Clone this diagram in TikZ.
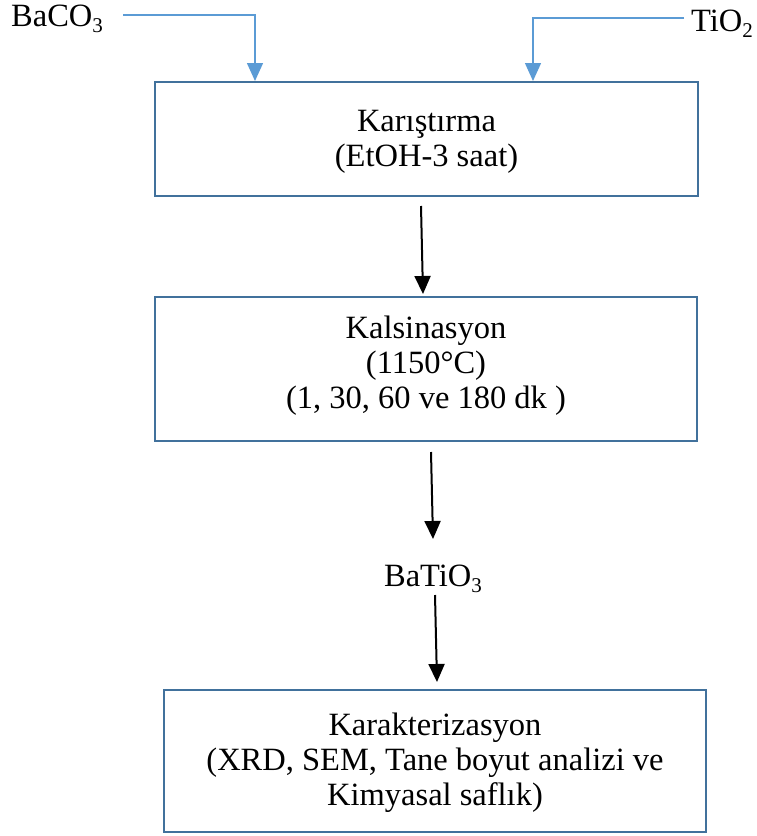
\documentclass[tikz,border=0pt]{standalone}
\usepackage{fontspec}
\setmainfont{Liberation Serif}
\usetikzlibrary{arrows.meta}
\definecolor{boxblue}{RGB}{65,113,156}
\definecolor{feedblue}{RGB}{91,155,213}
\newcommand{\subtxt}[1]{\raisebox{-0.18em}{\fontsize{21}{21}\selectfont #1}}
\begin{document}
\begin{tikzpicture}[x=1pt,y=-1pt,
  stepbox/.style={draw=boxblue,line width=2.2pt,align=center,inner sep=0pt,
    font=\fontsize{32.5}{35}\selectfont},
  steptext/.style={align=center,inner sep=0pt,font=\fontsize{32.5}{35}\selectfont},
  lbl/.style={inner sep=0pt,font=\fontsize{32.5}{35}\selectfont},
  feed/.style={draw=feedblue,line width=1.4pt,-{Triangle[length=18pt,width=16pt]}},
  flow/.style={draw=black,line width=2pt,-{Triangle[length=18pt,width=16pt]}}]
\useasboundingbox (0,0) rectangle (757,836);
\node[stepbox,minimum width=543pt,minimum height=114pt] (mix) at (426.5,139) {};
\node[steptext] (mixt) at (426.5,142) {Karıştırma\\(EtOH-3 saat)};
\node[stepbox,minimum width=542pt,minimum height=144pt] (calc) at (426,369) {};
\node[steptext] (calct) at (426,366) {Kalsinasyon\\(1150°C)\\(1, 30, 60 ve 180 dk )};
\node[stepbox,minimum width=542pt,minimum height=142pt] (char) at (435,761) {};
\node[steptext] (chart) at (435,763) {Karakterizasyon\\(XRD, SEM, Tane boyut analizi ve\\Kimyasal saflık)};
\node[lbl,anchor=west] (baco) at (11,19) {BaCO\subtxt{3}};
\node[lbl,anchor=east] (tio) at (753,24) {TiO\subtxt{2}};
\node[lbl] (bato) at (433,579) {BaTiO\subtxt{3}};
% feed lines
\coordinate (bacoS) at (123,15);
\coordinate (bacoK) at (255,15);
\coordinate (bacoE) at (255,81);
\coordinate (tioS) at (684,18);
\coordinate (tioK) at (533,18);
\coordinate (tioE) at (533,81);
\draw[feed] (bacoS) -- (bacoK) -- (bacoE);
\draw[feed] (tioS) -- (tioK) -- (tioE);
% flow arrows
\coordinate (a1s) at (421,206);
\coordinate (a1e) at (423,294);
\coordinate (a2s) at (431,452);
\coordinate (a2e) at (433,539);
\coordinate (a3s) at (435,595);
\coordinate (a3e) at (437,682);
\draw[flow] (a1s) -- (a1e);
\draw[flow] (a2s) -- (a2e);
\draw[flow] (a3s) -- (a3e);
\end{tikzpicture}
\end{document}
